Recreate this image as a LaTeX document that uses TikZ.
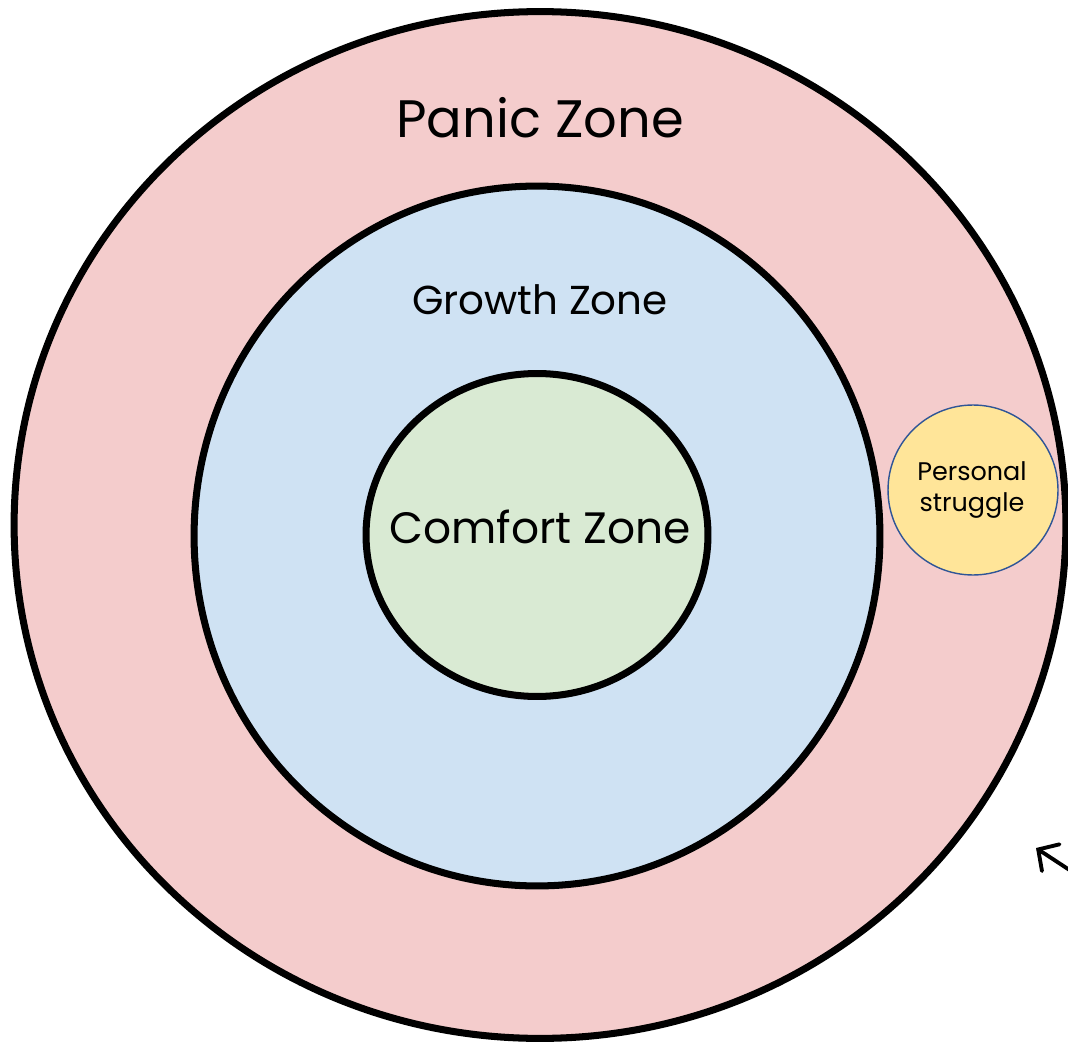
\documentclass[tikz,border=0pt]{standalone}
\usepackage{fontspec}
\setmainfont{Poppins}
\usetikzlibrary{shapes.geometric,arrows.meta}
\definecolor{panicpink}{HTML}{F4CCCC}
\definecolor{growthblue}{HTML}{CFE2F3}
\definecolor{comfortgreen}{HTML}{D9EAD3}
\definecolor{strugglegold}{HTML}{FFE599}
\definecolor{struggleline}{HTML}{2F5597}
\begin{document}
\begin{tikzpicture}[x=0.02cm,y=-0.02cm]
\useasboundingbox (0,0) rectangle (1068,1044);
\begin{scope}[every node/.style={ellipse,draw,line width=4pt,inner sep=0pt}]
\node[fill=panicpink,minimum width=21.04cm,minimum height=20.54cm] (panic) at (540,525) {};
\node[fill=growthblue,minimum width=13.72cm,minimum height=14.0cm] (growth) at (537,536) {};
\node[fill=comfortgreen,minimum width=6.84cm,minimum height=6.46cm] (comfort) at (537,535) {};
\node[fill=strugglegold,draw=struggleline,line width=0.8pt,minimum size=3.4cm] (struggle) at (973,490) {};
\end{scope}

\node[font=\fontsize{30}{36}\selectfont] (panictext) at (540,118) {Panic Zone};
\node[font=\fontsize{23}{28}\selectfont] (growthtext) at (540,300) {Growth Zone};
\node[font=\fontsize{25}{30}\selectfont] (comforttext) at (540,527) {Comfort Zone};
\node[font=\fontsize{14.5}{17.5}\selectfont,align=center] (struggletext) at (972,490) {Personal\\struggle};

\coordinate (tail) at (1100,890);
\coordinate (tip) at (1036,848);
\draw[line width=2.2pt,line cap=round,-{Straight Barb[length=3mm,width=6.4mm,line cap=round]}] (tail) -- (tip);
\end{tikzpicture}
\end{document}
